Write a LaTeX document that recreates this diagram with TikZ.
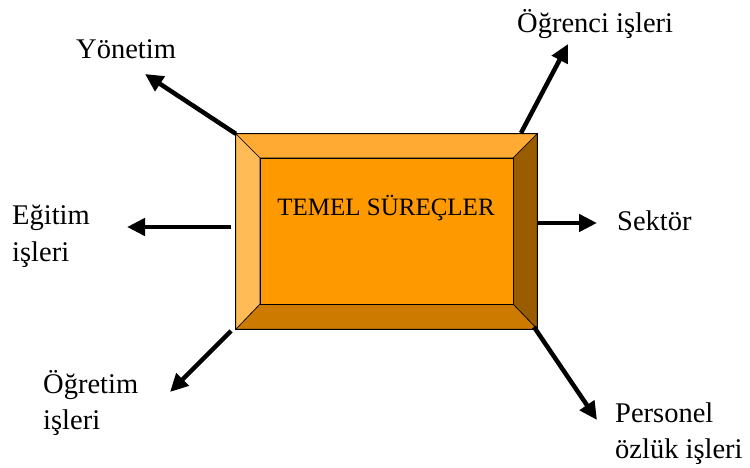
\documentclass[tikz,border=0pt]{standalone}
\usepackage{fontspec}
\setmainfont{Liberation Serif}
\usetikzlibrary{arrows.meta,calc}
\definecolor{bvtop}{HTML}{FFAA33}
\definecolor{bvleft}{HTML}{FFBB55}
\definecolor{bvright}{HTML}{995C00}
\definecolor{bvbottom}{HTML}{CC7A00}
\definecolor{bvface}{HTML}{FF9900}

\begin{document}
\begin{tikzpicture}[x=1pt,y=-1pt,
  lab/.style={font=\fontsize{28.5}{36}\selectfont,align=left,anchor=base west,inner sep=0pt},
  arr/.style={line width=4.5pt,-{Triangle[length=18pt,width=17pt]}},
  bevel/.style={draw=black,line width=0.6pt}]
\useasboundingbox (0,0) rectangle (750,468);
% bevelled box
\node[minimum width=301pt,minimum height=195pt,inner sep=0pt] (core) at (386.5,231.5) {};
\coordinate (fnw) at (260,158);
\coordinate (fne) at (513,158);
\coordinate (fse) at (513,304);
\coordinate (fsw) at (260,304);
\filldraw[bevel,fill=bvtop] (core.north west) -- (core.north east) -- (fne) -- (fnw) -- cycle;
\filldraw[bevel,fill=bvright] (core.north east) -- (core.south east) -- (fse) -- (fne) -- cycle;
\filldraw[bevel,fill=bvbottom] (core.south east) -- (core.south west) -- (fsw) -- (fse) -- cycle;
\filldraw[bevel,fill=bvleft] (core.south west) -- (core.north west) -- (fnw) -- (fsw) -- cycle;
\filldraw[bevel,fill=bvface] (fnw) rectangle (fse);
\draw[line width=0.8pt] (core.north west) rectangle (core.south east);
\node[font=\fontsize{25}{29}\selectfont] (title) at (386,208) {TEMEL SÜREÇLER};
% labels (two-line ones sit on their last baseline)
\node[lab] (yon) at (76,59) {Yönetim};
\node[lab] (ogr) at (517,33) {Öğrenci işleri};
\node[lab] (egi) at (12,261) {Eğitim\\işleri};
\node[lab] (sek) at (617,230) {Sektör};
\node[lab] (ogt) at (43,429) {Öğretim\\işleri};
\node[lab] (per) at (615,458) {Personel\\özlük işleri};
% arrow ends
\coordinate (yonS) at (core.north west);
\coordinate (yonT) at (145,74);
\coordinate (ogrS) at (521,133);
\coordinate (ogrT) at (568,44);
\coordinate (egiS) at (231,227);
\coordinate (egiT) at (127,227);
\coordinate (sekS) at (537,223);
\coordinate (sekT) at (597,223);
\coordinate (ogtS) at (231,331);
\coordinate (ogtT) at (170,392);
\coordinate (perS) at (534,327);
\coordinate (perT) at (597,420);
\foreach \n in {yon,ogr,egi,sek,ogt,per}
  \draw[arr] (\n S) -- (\n T);
\end{tikzpicture}
\end{document}
